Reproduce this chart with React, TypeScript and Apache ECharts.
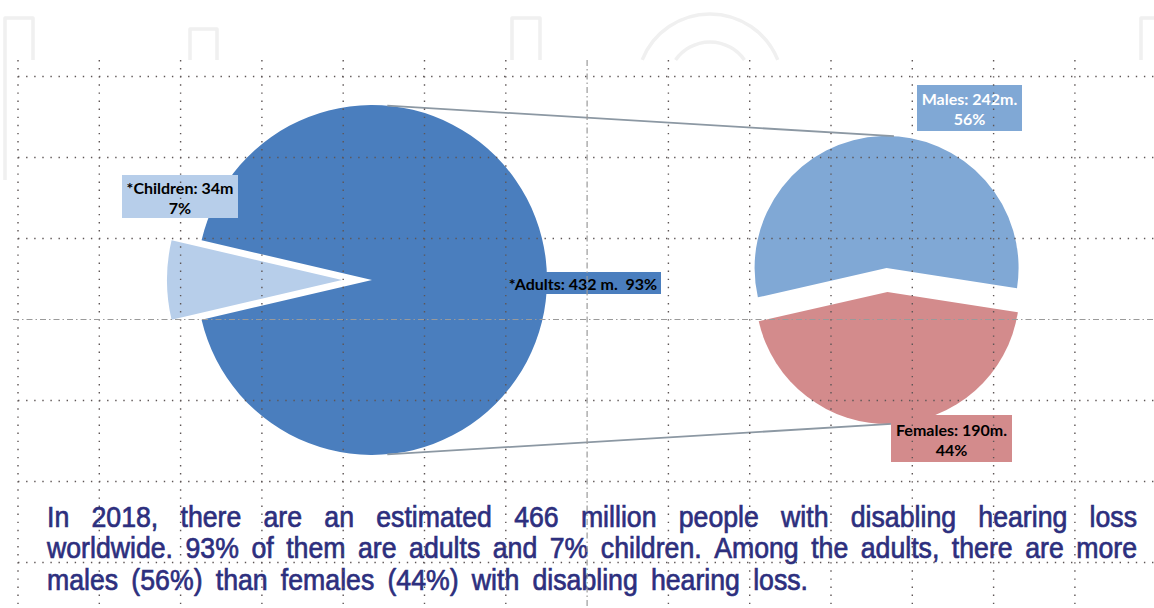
import React, { useEffect, useRef } from "react";
import * as echarts from "echarts";

// ---- data ----
const bigNames = ["*Children", "*Adults"];
const bigValues = [34, 432];
const smallNames = ["Males", "Females"];
const smallValues = [242, 190];
const paragraphLines = [
  "In 2018, there are an estimated 466 million people with disabling hearing loss",
  "worldwide. 93% of them are adults and 7% children. Among the adults, there are more",
  "males (56%) than females (44%) with disabling hearing loss.",
];

// ---- layout / style ----
const W = 1154;
const H = 608;
const BIG = { cx: 372, cy: 280, r: 175, off: 30 };
const SMALL = { cx: 887, cy: 280, r: 132, off: 12 };
const bigColors = ["#B7CEEA", "#4A7EBE"];
const smallColors = ["#80A8D5", "#D38B8C"];
// label boxes: [x, y, w, h]
const bigLabelBoxes = [
  [122, 175, 116, 43],
  [505, 272, 156, 22],
];
const smallLabelBoxes = [
  [917, 85, 105, 46],
  [891, 415, 121, 47],
];
const bigLabelColor = ["#000000", "#000000"];
const smallLabelColor = ["#ffffff", "#000000"];
const LABEL_FONT = "bold 16px Lato, 'Open Sans', sans-serif";

const TEXT_FONT_SIZE = 29;
const TEXT_FAMILY = '"Liberation Sans", Arial, sans-serif';
const TEXT_COLOR = "#2D2F7E";
const TEXT_LEFT = 47;
const lineTargetWidths = [1090, 1090, 761];
const lineMiddles = [517, 548.5, 580];
const TEXT_SCALE = 0.92;

function pct(v: number, total: number) {
  return Math.round((v / total) * 100);
}

function buildLabels(): any[] {
  const bigTotal = bigValues.reduce((a, b) => a + b, 0);
  const smallTotal = smallValues.reduce((a, b) => a + b, 0);
  const texts = [
    `${bigNames[0]}: ${bigValues[0]}m\n${pct(bigValues[0], bigTotal)}%`,
    `${bigNames[1]}: ${bigValues[1]} m.  ${pct(bigValues[1], bigTotal)}%`,
    `${smallNames[0]}: ${smallValues[0]}m.\n${pct(smallValues[0], smallTotal)}%`,
    `${smallNames[1]}: ${smallValues[1]}m.\n${pct(smallValues[1], smallTotal)}%`,
  ];
  const boxes = [...bigLabelBoxes, ...smallLabelBoxes];
  const fills = [...bigColors, ...smallColors];
  const colors = [...bigLabelColor, ...smallLabelColor];
  const els: any[] = [];
  boxes.forEach((b, i) => {
    els.push({
      type: "rect",
      silent: true,
      z: 60,
      shape: { x: b[0], y: b[1], width: b[2], height: b[3] },
      style: { fill: fills[i] },
    });
    els.push({
      type: "text",
      silent: true,
      z: 61,
      x: b[0] + b[2] / 2,
      y: b[1] + b[3] / 2 + 0.5,
      style: {
        text: texts[i],
        font: LABEL_FONT,
        fill: colors[i],
        align: "center",
        verticalAlign: "middle",
        lineHeight: 20,
      },
    });
  });
  return els;
}

function buildParagraph(): any[] {
  const canvas = document.createElement("canvas");
  const ctx = canvas.getContext("2d")!;
  const font = `${TEXT_FONT_SIZE}px ${TEXT_FAMILY}`;
  ctx.font = font;
  const children: any[] = [];
  paragraphLines.forEach((line, li) => {
    const words = line.split(" ");
    const widths = words.map((w) => ctx.measureText(w).width);
    const sum = widths.reduce((a, b) => a + b, 0);
    const target = lineTargetWidths[li] / TEXT_SCALE;
    const gap = (target - sum) / (words.length - 1);
    let x = 0;
    words.forEach((w, i) => {
      children.push({
        type: "text",
        x,
        y: lineMiddles[li],
        silent: true,
        style: {
          text: w,
          font,
          fill: TEXT_COLOR,
          stroke: TEXT_COLOR,
          lineWidth: 0.7,
          align: "left",
          verticalAlign: "middle",
        },
      });
      x += widths[i] + gap;
    });
  });
  return [
    {
      type: "group",
      x: TEXT_LEFT,
      y: 0,
      scaleX: TEXT_SCALE,
      scaleY: 1,
      z: 90,
      children,
    },
  ];
}

function buildGrid(): any[] {
  const els: any[] = [];
  const VX0 = 18;
  const VSTEP = 81.3;
  const HY0 = 76.5;
  const HSTEP = 81;
  for (let k = 0; k < 14; k++) {
    const x = VX0 + k * VSTEP;
    const center = k === 7;
    els.push({
      type: "line",
      silent: true,
      z: 100,
      shape: { x1: x, y1: 60, x2: x, y2: H },
      style: center
        ? { stroke: "#9a9a9a", lineWidth: 1.2, lineDash: [6, 3, 1.5, 3] }
        : { stroke: "#5e5656", lineWidth: 1.4, lineDash: [1.4, 6.7] },
    });
  }
  for (let k = 0; k < 7; k++) {
    const y = HY0 + k * HSTEP;
    const center = k === 3;
    els.push({
      type: "line",
      silent: true,
      z: 100,
      shape: { x1: center ? 13 : 18, y1: y, x2: W, y2: y },
      style: center
        ? { stroke: "#9a9a9a", lineWidth: 1.2, lineDash: [6, 3, 1.5, 3] }
        : { stroke: "#5e5656", lineWidth: 1.4, lineDash: [1.4, 6.7] },
    });
  }
  return els;
}

function buildWatermark(): any[] {
  const st = { stroke: "#F0F0F0", lineWidth: 3.5, fill: "none", lineJoin: "round" };
  return [
    { type: "polyline", silent: true, z: -10, shape: { points: [[5, 180], [5, 18], [33, 18], [33, 60]] }, style: st },
    { type: "polyline", silent: true, z: -10, shape: { points: [[190, 60], [190, 29], [217, 29], [217, 60]] }, style: st },
    { type: "polyline", silent: true, z: -10, shape: { points: [[512, 60], [512, 18], [540, 18], [540, 60]] }, style: st },
    { type: "polyline", silent: true, z: -10, shape: { points: [[1141, 60], [1141, 18], [1160, 18]] }, style: st },
    {
      type: "arc",
      silent: true,
      z: -10,
      shape: { cx: 710, cy: 87, r: 73, startAngle: Math.PI + 0.38, endAngle: 2 * Math.PI - 0.38, clockwise: true },
      style: { stroke: "#F0F0F0", lineWidth: 3.5, fill: "none" },
    },
    {
      type: "arc",
      silent: true,
      z: -10,
      shape: { cx: 710, cy: 84, r: 42, startAngle: Math.PI + 0.61, endAngle: 2 * Math.PI - 0.61, clockwise: true },
      style: { stroke: "#F0F0F0", lineWidth: 3.5, fill: "none" },
    },
  ];
}

function buildConnectors(): any[] {
  const rad = (d: number) => (d * Math.PI) / 180;
  const bigTop = [BIG.cx + BIG.r * Math.cos(rad(85)), BIG.cy - BIG.r * Math.sin(rad(85))];
  const bigBot = [BIG.cx + BIG.r * Math.cos(rad(-85)), BIG.cy - BIG.r * Math.sin(rad(-85))];
  const smTop = [SMALL.cx + SMALL.r * Math.cos(rad(87)), SMALL.cy - SMALL.off - SMALL.r * Math.sin(rad(87))];
  const smBot = [SMALL.cx + SMALL.r * Math.cos(rad(-88)), SMALL.cy + SMALL.off - SMALL.r * Math.sin(rad(-88))];
  const st = { stroke: "#8C98A3", lineWidth: 1.8 };
  return [
    { type: "line", silent: true, z: 50, shape: { x1: bigTop[0], y1: bigTop[1], x2: smTop[0], y2: smTop[1] }, style: st },
    { type: "line", silent: true, z: 50, shape: { x1: bigBot[0], y1: bigBot[1], x2: smBot[0], y2: smBot[1] }, style: st },
  ];
}

function buildOption(): any {
  const bigTotal = bigValues.reduce((a, b) => a + b, 0);
  const smallTotal = smallValues.reduce((a, b) => a + b, 0);
  const bigStart = 180 + ((bigValues[0] / bigTotal) * 360) / 2;
  const smallStart = 92 + ((smallValues[0] / smallTotal) * 360) / 2;

  const bigData = bigNames.map((n, i) => ({
    name: n,
    value: bigValues[i],
    selected: i === 0,
    itemStyle: { color: bigColors[i] },
    select: { itemStyle: { color: bigColors[i], borderWidth: 0 } },
  }));
  const smallData = smallNames.map((n, i) => ({
    name: n,
    value: smallValues[i],
    selected: true,
    itemStyle: { color: smallColors[i] },
    select: { itemStyle: { color: smallColors[i], borderWidth: 0 } },
  }));

  return {
    animation: false,
    backgroundColor: "#ffffff",
    series: [
      {
        type: "pie",
        silent: true,
        center: [BIG.cx, BIG.cy],
        radius: BIG.r,
        startAngle: bigStart,
        clockwise: true,
        selectedMode: "single",
        selectedOffset: BIG.off,
        emphasis: { disabled: true },
        itemStyle: { borderWidth: 0 },
        data: bigData,
        label: { show: false },
        labelLine: { show: false },
        z: 5,
      },
      {
        type: "pie",
        silent: true,
        center: [SMALL.cx, SMALL.cy],
        radius: SMALL.r,
        startAngle: smallStart,
        clockwise: true,
        selectedMode: "multiple",
        selectedOffset: SMALL.off,
        emphasis: { disabled: true },
        itemStyle: { borderWidth: 0 },
        data: smallData,
        label: { show: false },
        labelLine: { show: false },
        z: 5,
      },
    ],
    graphic: [
      ...buildWatermark(),
      ...buildConnectors(),
      ...buildLabels(),
      ...buildGrid(),
      ...buildParagraph(),
    ],
  };
}

export default function App() {
  const ref = useRef<HTMLDivElement>(null);
  useEffect(() => {
    document.body.style.margin = "0";
    const chart = echarts.init(ref.current!, null, { renderer: "svg" });
    chart.setOption(buildOption());
    return () => chart.dispose();
  }, []);
  return <div ref={ref} style={{ width: W, height: H, background: "#fff" }} />;
}
